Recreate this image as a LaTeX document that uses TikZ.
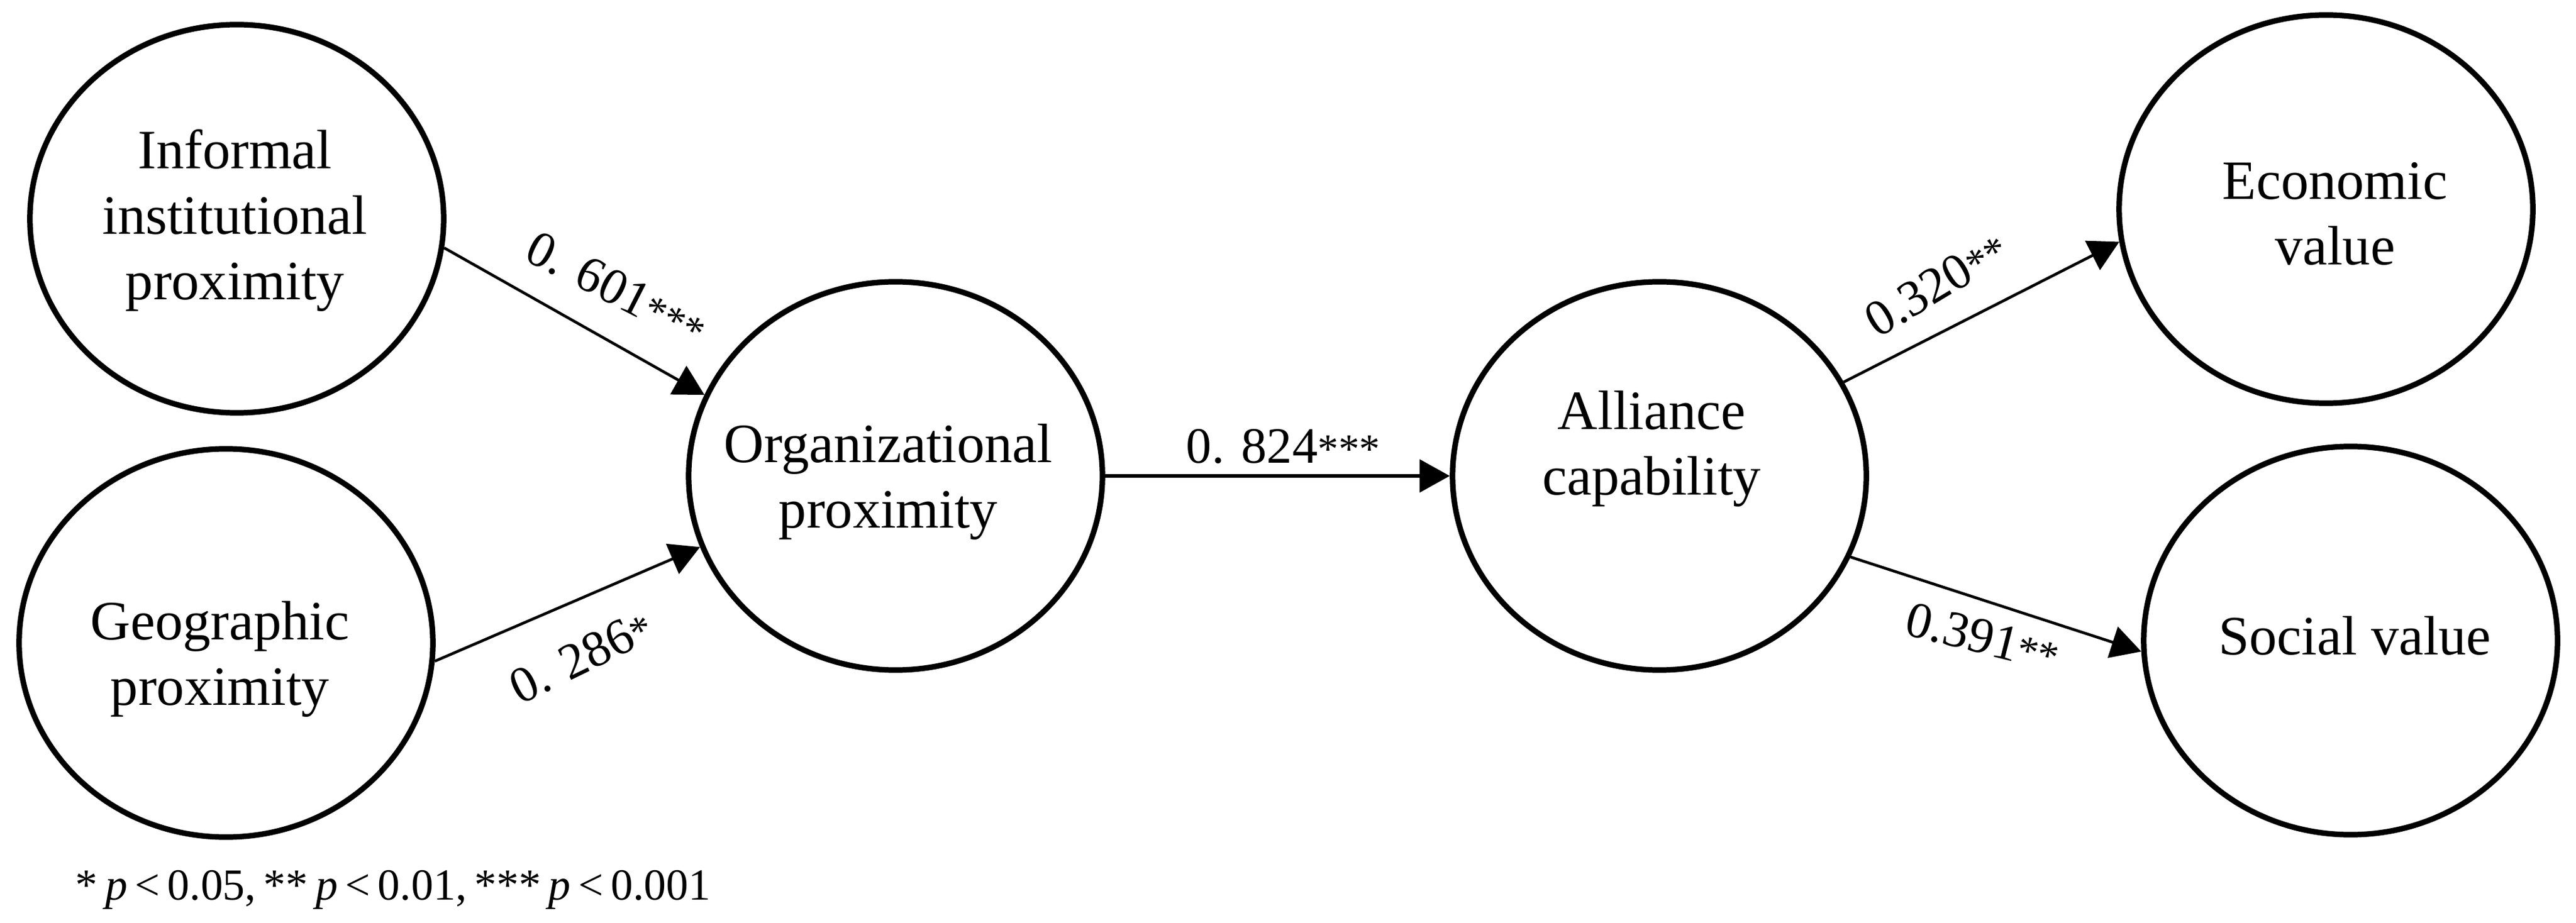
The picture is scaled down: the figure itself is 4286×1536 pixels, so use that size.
\documentclass[tikz,border=0pt]{standalone}
\usepackage{fontspec}
\setmainfont{Liberation Serif}
\usetikzlibrary{shapes.geometric,arrows.meta}
\begin{document}
\begin{tikzpicture}[x=0.13pt,y=-0.13pt,
  latent/.style={ellipse,draw,line width=1.2pt,minimum width=89.5pt,minimum height=84pt,inner sep=0pt},
  ntext/.style={align=center,font=\fontsize{12}{14.2}\selectfont,inner sep=0pt},
  regpath/.style={-{Triangle[length=6.5pt,width=7pt]},line width=0.6pt},
  coef/.style={font=\fontsize{11}{13}\selectfont,inner sep=0pt},
  note/.style={font=\fontsize{9.6}{11}\selectfont,inner sep=0pt}]
\useasboundingbox (0,0) rectangle (4286,1536);
% latent variables
\node[latent] (inf)  at (394,364)   {};
\node[latent] (geo)  at (376,1070)  {};
\node[latent] (org)  at (1490,792)  {};
\node[latent] (alli) at (2761,792)  {};
\node[latent] (eco)  at (3870,348)  {};
\node[latent] (soc)  at (3911,1066) {};
% texts
\node[ntext] (inftext)  at (391,367)   {Informal\\institutional\\proximity};
\node[ntext] (geotext)  at (366,1097)  {Geographic\\proximity};
\node[ntext] (orgtext)  at (1478,802)  {Organizational\\proximity};
\node[ntext] (allitext) at (2748,747)  {Alliance\\capability};
\node[ntext] (ecotext)  at (3885,356)  {Economic\\value};
\node[ntext] (soctext)  at (3918,1058) {Social value};
% paths
\draw[regpath] (inf.-8.3) -- (org.157);
\draw[regpath] (geo.-5.4) -- (org.200.2);
\draw[regpath,line width=0.8pt] (org.east) -- (alli.west);
\draw[regpath] (alli.27.9) -- (eco.189.8);
\draw[regpath] (alli.-23.7) -- (soc.183.9);
% coefficients
\node[coef,rotate=-27] (c1) at (1026,480)  {0. 601{\fontsize{9}{9}\selectfont***}};
\node[coef,rotate=26]  (c2) at (967,1093)  {0. 286{\fontsize{9}{9}\selectfont*}};
\node[coef]            (c3) at (2135,743)  {0. 824{\fontsize{9}{9}\selectfont***}};
\node[coef,rotate=31]  (c4) at (3222,473)  {0.320{\fontsize{9}{9}\selectfont**}};
\node[coef,rotate=-14] (c5) at (3299,1060) {0.391{\fontsize{9}{9}\selectfont**}};
% note
\node[note,anchor=base west] (pnote) at (124,1497) {\spaceskip=0.17em\relax * \textit{p} < 0.05, ** \textit{p} < 0.01, *** \textit{p} < 0.001};
\end{tikzpicture}
\end{document}
